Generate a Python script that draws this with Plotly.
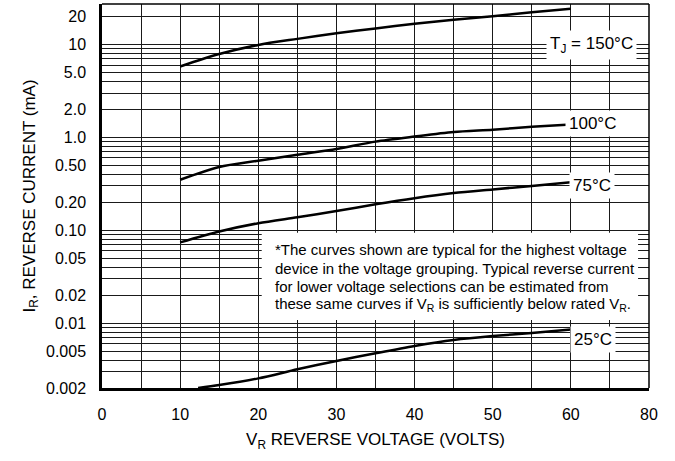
import plotly.graph_objects as go
import math

# ---- data ----
voltage = [10, 15, 20, 25, 30, 35, 40, 45, 50, 55, 60]
i_150 = [5.8, 7.9, 9.9, 11.5, 13.2, 14.9, 16.7, 18.5, 20.2, 22.2, 24.3]
i_100 = [0.35, 0.48, 0.56, 0.65, 0.75, 0.90, 1.02, 1.14, 1.21, 1.30, 1.38]
i_75 = [0.074, 0.097, 0.119, 0.138, 0.161, 0.190, 0.221, 0.251, 0.275, 0.300, 0.328]
voltage_25 = [12.3, 15, 20, 25, 30, 35, 40, 45, 50, 55, 60]
i_25 = [0.002, 0.00215, 0.00254, 0.00318, 0.00391, 0.00473, 0.00567, 0.00658, 0.00726, 0.00783, 0.00854]

x_tickvals = [0, 10, 20, 30, 40, 50, 60, 70]
x_ticktext = ["0", "10", "20", "30", "40", "50", "60", "80"]
y_tickvals = [0.002, 0.005, 0.01, 0.02, 0.05, 0.1, 0.2, 0.5, 1, 2, 5, 10, 20]
y_ticktext = ["0.002", "0.005", "0.01", "0.02", "0.05", "0.10", "0.20", "0.50",
              "1.0", "2.0", "5.0", "10", "20"]
decades = [0.01, 0.1, 1, 10]
y_min, y_max = 0.002, 27.3

FONT = "Liberation Sans, Arial, Helvetica, sans-serif"

# minor grid values: every 1..9 multiple of each decade not already a major tick
minor_vals = []
for e in range(-3, 2):
    for m in range(1, 10):
        v = round(m * 10 ** e, 6)
        if y_min < v < y_max and all(abs(v - t) > 1e-9 for t in y_tickvals):
            minor_vals.append(v)

fig = go.Figure()
line_style = dict(color="black", width=2.5, shape="spline", smoothing=0.8)
fig.add_trace(go.Scatter(x=voltage, y=i_150, mode="lines", line=line_style, name="150°C"))
fig.add_trace(go.Scatter(x=voltage, y=i_100, mode="lines", line=line_style, name="100°C"))
fig.add_trace(go.Scatter(x=voltage, y=i_75, mode="lines", line=line_style, name="75°C"))
fig.add_trace(go.Scatter(x=voltage_25, y=i_25, mode="lines", line=line_style, name="25°C"))

grid_c = "#1a1a1a"
fig.update_layout(
    width=675, height=461,
    margin=dict(l=102, r=26, t=4, b=73),
    paper_bgcolor="white", plot_bgcolor="white",
    showlegend=False,
    font=dict(family=FONT, size=16, color="black"),
    xaxis=dict(
        range=[0, 70], tickvals=x_tickvals, ticktext=x_ticktext,
        showgrid=True, gridcolor=grid_c, gridwidth=1,
        minor=dict(dtick=5, tick0=0, showgrid=True, gridcolor=grid_c, gridwidth=1, ticks=""),
        showline=True, linecolor="black", linewidth=2.5,
        ticks="", ticklabelstandoff=10, zeroline=False, automargin=False,
        title=dict(text="V<sub>R</sub> REVERSE VOLTAGE (VOLTS)", font=dict(size=17), standoff=12),
    ),
    yaxis=dict(
        type="log", range=[math.log10(y_min), math.log10(y_max)],
        tickvals=y_tickvals, ticktext=y_ticktext,
        showgrid=True, gridcolor=grid_c, gridwidth=1,
        minor=dict(tickvals=minor_vals, showgrid=True, gridcolor=grid_c, gridwidth=1, ticks=""),
        showline=True, linecolor="black", linewidth=2.5,
        ticks="", ticklabelstandoff=10, zeroline=False, automargin=False,
        title=dict(text="I<sub>R</sub>, REVERSE CURRENT (mA)", font=dict(size=17), standoff=7),
    ),
    yaxis2=dict(
        type="log", range=[math.log10(y_min), math.log10(y_max)], overlaying="y",
        tickvals=decades, showticklabels=False, showgrid=True, gridcolor="black",
        gridwidth=2.5, showline=False, ticks="", zeroline=False, automargin=False,
    ),
)

# top and right frame
fig.add_shape(type="line", xref="paper", yref="paper", x0=0, x1=1, y0=1, y1=1,
              line=dict(color="black", width=1.5))
fig.add_shape(type="line", xref="paper", yref="paper", x0=1, x1=1, y0=0, y1=1,
              line=dict(color="black", width=1.5))

# white note box
fig.add_shape(type="rect", xref="paper", yref="paper", x0=0.292, x1=0.980, y0=0.177, y1=0.404,
              fillcolor="white", line=dict(width=0), layer="above")

note_lines = [
    "*The curves shown are typical for the highest voltage",
    "device in the voltage grouping. Typical reverse current",
    "for lower voltage selections can be estimated from",
    "these same curves if V<sub>R</sub> is sufficiently below rated V<sub>R</sub>.",
]
note_y_px = [249.3, 268.3, 286.7, 305]
for txt, ypx in zip(note_lines, note_y_px):
    fig.add_annotation(text=txt, xref="paper", yref="paper",
                       x=(273 - 101.7) / 547.6, y=(388 - ypx) / 383.7,
                       xanchor="left", yanchor="middle", showarrow=False,
                       font=dict(size=15))

# curve labels
labels = [
    ("T<sub>J</sub> = 150°C", 62.6, 10.0),
    ("100°C", 62.8, 1.42),
    ("75°C", 62.7, 0.30),
    ("25°C", 62.8, 0.0067),
]
for txt, xv, yv in labels:
    fig.add_annotation(text=txt, x=xv, y=math.log10(yv), xref="x", yref="y",
                       showarrow=False, bgcolor="white", borderpad=3,
                       font=dict(size=17))

fig.write_html("out.html", config={"displayModeBar": False},
               post_script="document.body.style.margin='0';")
